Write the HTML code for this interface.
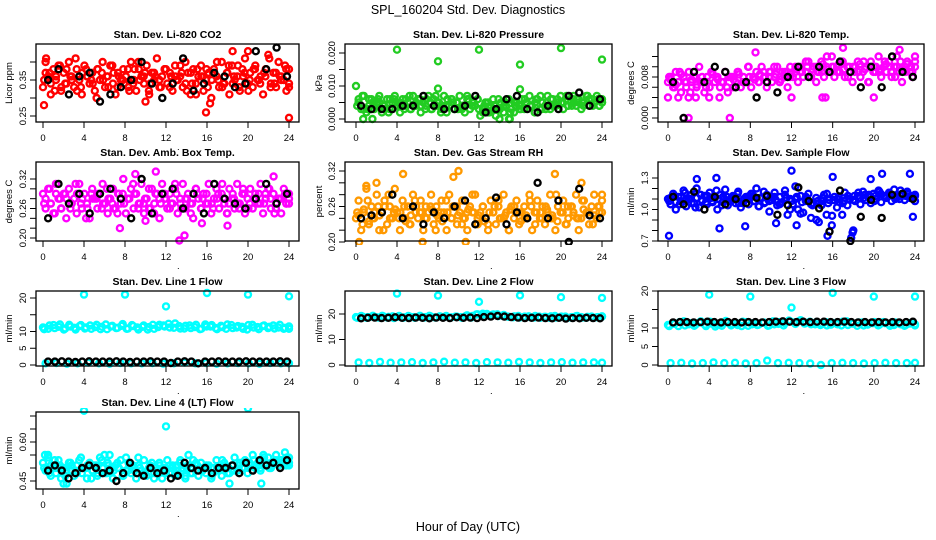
<!DOCTYPE html>
<html><head><meta charset="utf-8"><title>SPL_160204 Std. Dev. Diagnostics</title>
<style>
html,body{margin:0;padding:0;background:#fff;}
svg{display:block;font-family:"Liberation Sans",Arial,sans-serif;}
.pt{fill:none;stroke-width:2.4;}
.ttl{font-size:10.5px;font-weight:bold;text-anchor:middle;}
.tk{font-size:9.5px;text-anchor:middle;}
</style></head>
<body>
<svg id="chart" width="936" height="540" viewBox="0 0 936 540">
<rect width="936" height="540" fill="#fff"/>
<text x="468" y="14" font-size="12.5" text-anchor="middle">SPL_160204  Std. Dev. Diagnostics</text>
<text x="468" y="531" font-size="12.5" text-anchor="middle">Hour of Day (UTC)</text>
</svg>
<script>
// ---------- data (hour-of-day std dev values) ----------
const xTicks = [0,4,8,12,16,20,24];

const co2Main = [0.33,0.40,0.36,0.31,0.38,0.35,0.39,0.32,0.37,0.34,0.40,0.36,0.33,0.38,0.35,0.31,0.39,0.36,0.34,0.37,0.32,0.38,0.35,0.40,0.33,0.36,0.39,0.34,0.31,0.37,0.35,0.38,0.36,0.33,0.40,0.35,0.32,0.38,0.36,0.34,0.39,0.31,0.37,0.35,0.41,0.33,0.36,0.38,0.34,0.37,0.32,0.39,0.35,0.36,0.33,0.40,0.37,0.31,0.38,0.34,0.36,0.39,0.32,0.35,0.37,0.30,0.38,0.36,0.33,0.40,0.34,0.37,0.31,0.39,0.35,0.36,0.32,0.38,0.41,0.34,0.37,0.33,0.39,0.35,0.36,0.31,0.38,0.42,0.34,0.37,0.33,0.40,0.36,0.35,0.32,0.38];
const co2Extra = [0.35,0.37,0.32,0.39,0.34,0.36,0.41,0.33,0.38,0.35,0.30,0.37,0.36,0.39,0.33,0.35,0.38,0.34,0.40,0.36,0.32,0.37,0.35,0.38,0.33,0.36,0.39,0.34,0.37,0.31,0.36,0.38,0.35,0.40,0.33,0.37,0.34,0.39,0.36,0.32,0.38,0.35,0.37,0.41,0.34,0.36,0.39,0.33];
const co2Third = [0.37,0.34,0.36,0.33,0.38,0.35,0.32,0.37,0.36,0.34,0.38,0.35,0.33,0.37,0.36,0.34,0.32,0.38,0.35,0.37,0.34,0.36,0.33,0.38,0.36,0.35,0.37,0.32,0.34,0.38,0.36,0.33,0.37,0.35,0.34,0.39,0.36,0.33,0.37,0.35,0.38,0.34,0.36,0.33,0.37,0.35,0.38,0.34];
const co2OutX = [0.1,0.3,15.9,24,18.5,20,10,16.3];
const co2OutY = [0.28,0.41,0.26,0.245,0.43,0.43,0.29,0.285];
const co2Black = [0.35,0.38,0.31,0.36,0.37,0.29,0.31,0.33,0.35,0.40,0.34,0.30,0.34,0.41,0.32,0.34,0.37,0.36,0.33,0.34,0.43,0.38,0.44,0.36];

const presMain = [0.010,0.006,0.003,0.007,0.002,0.004,0.006,0.003,0.005,0.007,0.002,0.004,0.006,0.003,0.005,0.007,0.004,0.002,0.006,0.004,0.005,0.003,0.007,0.004,0.006,0.002,0.005,0.004,0.007,0.003,0.006,0.004,0.005,0.003,0.007,0.002,0.004,0.006,0.003,0.005,0.007,0.004,0.002,0.006,0.003,0.005,0.004,0.006,0.001,0.003,0.005,0.002,0.004,0.006,0.001,0.003,0.005,0.002,0.004,0.006,0.003,0.002,0.005,0.004,0.006,0.003,0.005,0.007,0.004,0.002,0.006,0.003,0.005,0.004,0.007,0.003,0.006,0.004,0.005,0.007,0.003,0.006,0.004,0.005,0.007,0.004,0.006,0.003,0.005,0.007,0.004,0.006,0.005,0.007,0.004,0.006];
const presExtra = [0.004,0.007,0.003,0.005,0.006,0.004,0.002,0.006,0.005,0.003,0.007,0.004,0.006,0.003,0.005,0.007,0.002,0.004,0.006,0.005,0.003,0.007,0.004,0.006,0.002,0.005,0.003,0.006,0.004,0.000,0.005,0.003,0.006,0.004,0.005,0.007,0.003,0.006,0.004,0.005,0.007,0.004,0.006,0.005,0.007,0.004,0.006,0.005];
const presThird = [0.005,0.003,0.006,0.004,0.005,0.003,0.006,0.005,0.004,0.006,0.003,0.005,0.004,0.006,0.003,0.005,0.004,0.006,0.005,0.003,0.004,0.006,0.005,0.003,0.004,0.002,0.004,0.003,0.005,0.002,0.004,0.003,0.005,0.004,0.006,0.003,0.005,0.004,0.006,0.005,0.004,0.006,0.005,0.004,0.006,0.005,0.004,0.005];
const presOutX = [4,8,12,16,20,24,0.7,1.6,8,16,14,15];
const presOutY = [0.021,0.0175,0.021,0.0165,0.0215,0.018,0.000,0.000,0.0092,0.009,0.000,0.000];
const presBlack = [0.004,0.003,0.003,0.003,0.004,0.004,0.007,0.004,0.003,0.003,0.004,0.007,0.002,0.003,0.006,0.007,0.003,0.002,0.004,0.003,0.007,0.008,0.004,0.006];

const tempMain = [0.007,0.008,0.006,0.009,0.007,0.005,0.008,0.006,0.009,0.007,0.008,0.006,0.010,0.007,0.005,0.008,0.006,0.009,0.007,0.008,0.006,0.007,0.009,0.005,0.008,0.006,0.007,0.009,0.006,0.008,0.007,0.010,0.006,0.008,0.009,0.007,0.010,0.008,0.006,0.009,0.007,0.008,0.010,0.007,0.009,0.008,0.006,0.010,0.008,0.009,0.007,0.010,0.008,0.009,0.011,0.008,0.010,0.007,0.009,0.011,0.008,0.010,0.009,0.012,0.008,0.010,0.009,0.011,0.008,0.010,0.009,0.007,0.010,0.011,0.008,0.009,0.010,0.007,0.011,0.009,0.010,0.012,0.008,0.010,0.009,0.011,0.008,0.010,0.012,0.009,0.007,0.010,0.011,0.009,0.008,0.011];
const tempExtra = [0.008,0.006,0.009,0.007,0.005,0.008,0.007,0.006,0.009,0.008,0.007,0.006,0.008,0.009,0.007,0.010,0.008,0.007,0.009,0.008,0.010,0.007,0.009,0.008,0.010,0.009,0.011,0.008,0.010,0.009,0.012,0.010,0.009,0.011,0.008,0.010,0.009,0.011,0.007,0.010,0.009,0.011,0.010,0.008,0.011,0.009,0.010,0.012];
const tempThird = [0.0075,0.0065,0.0085,0.007,0.0075,0.0065,0.008,0.007,0.0085,0.0075,0.007,0.008,0.0075,0.0085,0.007,0.008,0.0075,0.0085,0.008,0.009,0.0085,0.0075,0.009,0.0085,0.0095,0.009,0.010,0.0095,0.009,0.0105,0.0095,0.010,0.0105,0.0095,0.010,0.009,0.0105,0.0095,0.010,0.009,0.0095,0.0105,0.009,0.010,0.0095,0.0105,0.009,0.010];
const tempOutX = [0,1,2,2.7,4,5,6,2,12,15,15.3,20,17,8.5,22.5];
const tempOutY = [0.004,0.004,0.004,0.004,0.004,0.004,0.000,0.000,0.004,0.004,0.004,0.004,0.0137,0.0128,0.0133];
const tempBlack = [0.007,0.000,0.009,0.007,0.010,0.009,0.006,0.007,0.004,0.007,0.005,0.008,0.010,0.008,0.010,0.009,0.011,0.009,0.006,0.010,0.006,0.012,0.009,0.008];

const ambMain = [0.29,0.26,0.30,0.27,0.25,0.31,0.28,0.26,0.29,0.24,0.30,0.27,0.28,0.25,0.31,0.26,0.29,0.27,0.24,0.30,0.28,0.26,0.29,0.31,0.27,0.25,0.28,0.30,0.26,0.29,0.27,0.32,0.25,0.28,0.30,0.26,0.29,0.27,0.31,0.25,0.28,0.26,0.30,0.27,0.29,0.24,0.31,0.28,0.26,0.29,0.27,0.30,0.25,0.28,0.31,0.26,0.29,0.27,0.24,0.30,0.28,0.26,0.29,0.27,0.31,0.25,0.28,0.30,0.26,0.29,0.27,0.25,0.30,0.28,0.26,0.31,0.27,0.29,0.25,0.28,0.30,0.26,0.29,0.27,0.31,0.25,0.28,0.30,0.26,0.29,0.27,0.28,0.25,0.30,0.27,0.29];
const ambExtra = [0.27,0.30,0.25,0.28,0.29,0.26,0.31,0.27,0.24,0.29,0.28,0.26,0.30,0.27,0.25,0.29,0.28,0.31,0.26,0.27,0.30,0.25,0.28,0.29,0.26,0.31,0.27,0.28,0.25,0.30,0.26,0.29,0.27,0.28,0.31,0.25,0.29,0.27,0.30,0.26,0.28,0.29,0.27,0.30,0.25,0.28,0.29,0.27];
const ambThird = [0.28,0.27,0.29,0.26,0.28,0.27,0.29,0.28,0.26,0.28,0.29,0.27,0.28,0.26,0.29,0.27,0.28,0.29,0.27,0.28,0.26,0.29,0.27,0.28,0.27,0.29,0.26,0.28,0.27,0.29,0.28,0.27,0.26,0.29,0.28,0.27,0.28,0.26,0.29,0.27,0.28,0.27,0.29,0.28,0.26,0.28,0.27,0.28];
const ambOutX = [13.3,13.8,10,15.5,18,7.5,9,11,22.5];
const ambOutY = [0.195,0.205,0.235,0.23,0.225,0.22,0.33,0.335,0.325];
const ambBlack = [0.24,0.31,0.27,0.29,0.25,0.29,0.30,0.28,0.24,0.32,0.25,0.29,0.30,0.26,0.29,0.25,0.31,0.28,0.27,0.26,0.28,0.31,0.27,0.29];

const rhMain = [0.24,0.27,0.22,0.25,0.29,0.23,0.26,0.24,0.28,0.22,0.25,0.27,0.23,0.26,0.24,0.29,0.25,0.22,0.27,0.24,0.26,0.23,0.28,0.25,0.24,0.27,0.22,0.26,0.25,0.28,0.23,0.26,0.24,0.27,0.25,0.22,0.28,0.24,0.26,0.23,0.25,0.27,0.24,0.22,0.26,0.25,0.28,0.23,0.25,0.26,0.24,0.22,0.27,0.25,0.23,0.26,0.24,0.28,0.25,0.22,0.26,0.24,0.27,0.23,0.25,0.26,0.24,0.28,0.22,0.25,0.27,0.24,0.26,0.23,0.25,0.28,0.24,0.22,0.26,0.25,0.27,0.23,0.24,0.26,0.25,0.28,0.22,0.24,0.27,0.25,0.23,0.26,0.28,0.24,0.25,0.27];
const rhExtra = [0.25,0.23,0.27,0.24,0.26,0.22,0.28,0.25,0.24,0.26,0.23,0.27,0.25,0.24,0.26,0.22,0.25,0.27,0.24,0.26,0.23,0.25,0.28,0.24,0.26,0.23,0.25,0.27,0.24,0.22,0.26,0.25,0.24,0.27,0.23,0.25,0.26,0.24,0.28,0.25,0.23,0.26,0.24,0.27,0.25,0.23,0.26,0.28];
const rhThird = [0.245,0.255,0.235,0.25,0.245,0.26,0.24,0.255,0.25,0.235,0.245,0.26,0.25,0.24,0.255,0.245,0.235,0.25,0.26,0.245,0.24,0.255,0.25,0.245,0.235,0.25,0.26,0.24,0.245,0.255,0.25,0.235,0.245,0.26,0.25,0.24,0.255,0.245,0.235,0.25,0.26,0.245,0.24,0.255,0.25,0.245,0.26,0.25];
const rhOutX = [0.3,6.5,10.7,4.6,10,19.4,2,9.5,22,1];
const rhOutY = [0.20,0.20,0.20,0.315,0.32,0.315,0.30,0.31,0.30,0.295];
const rhBlack = [0.24,0.245,0.25,0.28,0.24,0.26,0.23,0.25,0.24,0.26,0.27,0.23,0.24,0.275,0.23,0.25,0.24,0.30,0.24,0.27,0.20,0.29,0.245,0.24];

const flowMain = [1.10,1.05,1.15,1.00,1.12,1.08,1.18,1.03,1.10,1.14,1.06,1.20,1.02,1.09,1.13,1.05,1.16,1.08,1.11,1.00,1.14,1.07,1.19,1.04,1.10,1.13,1.06,1.17,1.02,1.09,1.12,1.05,1.15,1.08,1.20,1.03,1.11,1.06,1.14,0.98,1.09,1.16,1.04,1.12,1.07,1.18,0.95,1.10,1.05,1.22,1.00,1.13,0.97,1.08,1.15,0.92,1.06,1.11,0.88,1.04,1.14,0.95,1.09,0.85,1.12,1.02,1.07,0.95,1.16,1.04,1.10,0.78,1.08,1.13,1.05,1.17,1.09,1.12,1.06,1.15,1.10,1.18,1.07,1.13,1.11,1.16,1.08,1.19,1.12,1.10,1.15,1.09,1.17,1.11,1.13,1.08];
const flowExtra = [1.08,1.13,1.05,1.16,1.10,1.02,1.14,1.07,1.11,1.18,1.04,1.12,1.09,1.15,1.06,1.10,1.13,1.03,1.17,1.08,1.12,1.05,1.14,1.00,1.10,0.96,1.12,1.05,0.90,1.08,1.15,0.94,1.10,1.06,1.13,1.09,1.16,1.11,1.14,1.08,1.17,1.12,1.15,1.10,1.18,1.13,1.11,1.14];
const flowThird = [1.11,1.07,1.12,1.09,1.06,1.11,1.08,1.13,1.07,1.10,1.12,1.08,1.11,1.06,1.10,1.13,1.08,1.11,1.07,1.12,1.09,1.06,1.11,1.08,1.12,1.07,1.10,1.04,1.08,1.11,1.06,1.09,1.12,1.08,1.10,1.13,1.11,1.14,1.12,1.13,1.15,1.12,1.14,1.11,1.13,1.15,1.12,1.13];
const flowOutX = [0.1,5,7.5,10.5,12.5,15.5,2.8,4.7,12,16,19.7,20.8,23.5,23.8,18,17.8];
const flowOutY = [0.75,0.82,0.84,0.87,0.85,0.75,1.29,1.30,1.37,1.31,1.29,1.34,1.34,0.93,0.80,0.73];
const flowBlack = [1.12,1.05,1.17,1.00,1.12,1.05,1.10,1.06,1.11,1.13,0.95,1.04,1.21,1.08,1.01,0.79,1.18,0.70,0.93,1.09,0.92,1.14,1.15,1.10];

const line1Band = [11.2,10.8,11.9,11.4,10.6,12.0,11.1,11.6,10.9,11.8,11.3,10.7,12.1,11.5,11.0,11.7,10.8,11.9,11.2,11.4,10.6,12.0,11.3,11.8,12.3,11.1,11.6,10.9,11.8,11.3,10.7,12.1,11.5,11.0,11.7,10.8,11.9,11.2,11.4,10.6,12.0,11.3,11.6,11.0,11.8,11.2,10.8,11.5];
const line1Band2 = [10.7,11.8,11.0,12.1,10.9,11.5,10.6,11.9,11.2,10.8,12.0,11.4,10.7,11.7,11.1,12.2,10.9,11.6,10.6,11.8,11.3,10.8,12.0,11.5,11.2,12.4,10.9,11.7,11.0,12.0,10.8,11.5,11.9,10.7,11.3,12.1,11.0,11.6,10.8,11.9,11.2,10.7,11.8,11.4,10.9,12.0,11.1,10.8];
const line1Low = [0.5,0.6,0.4,0.5,0.7,0.5,0.4,0.6,0.5,0.5,0.6,0.4,0.5,0.7,0.5,0.6,0.4,0.5,0.6,0.5,0.4,0.6,0.5,0.5];
const line1Black = [1.0,1.0,1.1,1.0,0.9,1.0,1.1,1.0,1.0,1.0,1.1,1.0,0.9,1.0,1.0,1.1,1.0,1.0,0.6,1.0,1.1,1.0,0.5,1.0,1.0,1.1,1.0,1.0,1.0,1.1,1.0,1.0,1.0,1.0,1.1,1.0];
const line1OutX = [4,8,12,16,20,24];
const line1OutY = [21,21,17.5,21.5,21,20.5];

const line2Band = [18.8,19.2,18.5,19.0,18.7,19.3,18.6,19.1,18.9,18.5,19.2,18.8,19.0,18.6,19.3,18.7,19.1,18.9,18.5,19.0,18.8,19.2,18.6,19.8,19.4,20.0,19.6,19.9,19.3,19.0,18.7,19.2,18.8,19.1,18.6,19.0,18.9,18.5,19.2,18.7,19.0,18.6,19.1,18.8,18.5,19.0,18.7,19.1];
const line2Band2 = [18.5,19.0,18.8,19.3,18.6,19.1,18.9,18.4,19.2,18.7,19.0,18.5,19.3,18.8,19.1,18.6,18.9,19.2,18.7,19.0,18.5,19.5,19.2,19.9,20.1,19.5,19.8,19.2,19.6,18.9,19.1,18.6,19.0,18.8,19.2,18.5,18.9,19.1,18.6,19.0,18.4,18.8,19.2,18.6,18.9,18.5,18.8,19.0];
const line2Low = [1.0,0.8,1.2,0.9,1.0,1.1,0.8,1.0,1.3,0.9,1.0,0.8,1.1,1.0,0.9,1.2,1.0,0.8,1.0,1.1,0.9,1.0,1.0,0.9];
const line2Black = [18.3,18.5,18.6,18.4,18.5,18.7,18.5,18.4,18.6,18.5,18.3,18.6,18.5,18.4,18.7,18.5,18.6,18.4,18.8,19.0,19.2,19.0,18.8,18.6,18.4,18.5,18.6,18.4,18.3,18.5,18.2,18.4,18.3,18.5,18.4,18.3];
const line2OutX = [4,8,12,16,20,24];
const line2OutY = [28,27.2,24.8,27.3,26.6,26.3];

const line3Band = [10.8,11.4,10.5,11.8,11.0,10.6,11.5,10.9,11.7,10.4,11.2,11.9,10.7,11.3,10.5,11.6,11.0,10.8,11.4,10.6,11.8,11.1,10.7,12.0,11.5,11.9,11.2,11.7,11.0,10.8,11.6,10.9,11.4,10.7,11.8,11.2,10.6,11.5,10.9,11.3,10.7,11.6,11.0,10.8,11.4,10.6,11.2,11.0];
const line3Band2 = [10.5,11.1,11.6,10.7,11.3,10.9,11.8,10.5,11.2,11.0,10.6,11.5,11.1,10.8,11.7,10.6,11.3,10.9,11.5,10.7,11.0,11.6,11.3,11.8,11.1,12.1,11.4,11.0,11.6,11.2,10.7,11.4,11.0,11.7,10.8,11.2,11.5,10.7,11.1,11.6,10.9,11.3,10.6,11.5,11.0,10.8,11.4,10.7];
const line3Low = [0.5,0.6,0.4,0.5,0.7,0.5,0.6,0.4,0.5,1.2,0.5,0.6,0.5,0.4,0.0,0.5,0.6,0.5,0.4,0.5,0.6,0.5,0.5,0.6];
const line3Black = [11.5,11.6,11.6,11.5,11.6,11.7,11.6,11.5,11.6,11.6,11.5,11.6,11.6,11.5,11.6,11.7,11.8,11.7,11.6,11.7,11.6,11.7,11.7,11.6,11.6,11.7,11.6,11.5,11.6,11.5,11.6,11.5,11.6,11.5,11.6,11.7];
const line3OutX = [4,8,12,16,20,24];
const line3OutY = [19,18.5,15.5,19.5,18.5,18.5];

const line4Main = [0.52,0.49,0.54,0.47,0.51,0.50,0.53,0.46,0.50,0.48,0.52,0.49,0.47,0.51,0.53,0.48,0.50,0.46,0.52,0.49,0.51,0.47,0.54,0.50,0.48,0.52,0.49,0.46,0.51,0.50,0.53,0.47,0.49,0.52,0.48,0.50,0.46,0.51,0.49,0.53,0.47,0.50,0.52,0.48,0.49,0.51,0.46,0.50,0.53,0.48,0.51,0.47,0.49,0.52,0.50,0.46,0.51,0.48,0.53,0.49,0.47,0.52,0.50,0.48,0.51,0.46,0.50,0.53,0.49,0.47,0.52,0.50,0.48,0.51,0.54,0.49,0.52,0.50,0.53,0.48,0.51,0.55,0.50,0.52,0.49,0.53,0.51,0.54,0.50,0.52,0.55,0.51,0.53,0.52,0.54,0.51];
const line4Extra = [0.50,0.48,0.53,0.51,0.47,0.52,0.49,0.54,0.50,0.46,0.51,0.53,0.48,0.50,0.52,0.47,0.49,0.51,0.54,0.48,0.50,0.46,0.52,0.49,0.51,0.48,0.53,0.47,0.50,0.52,0.49,0.51,0.47,0.50,0.53,0.48,0.51,0.49,0.52,0.50,0.53,0.51,0.54,0.50,0.52,0.53,0.51,0.54];
const line4Third = [0.49,0.51,0.48,0.50,0.49,0.51,0.48,0.50,0.51,0.49,0.48,0.50,0.51,0.49,0.50,0.48,0.51,0.49,0.50,0.48,0.51,0.50,0.49,0.48,0.50,0.51,0.49,0.50,0.48,0.51,0.49,0.50,0.48,0.49,0.51,0.50,0.49,0.51,0.50,0.52,0.51,0.50,0.52,0.51,0.53,0.52,0.51,0.52];
const line4OutX = [4,12,20,0.2,0.5,2,2.3,6,6.5,14.2,18.2,21.5,23.6,8.1,21.3];
const line4OutY = [0.72,0.66,0.73,0.55,0.55,0.44,0.44,0.55,0.55,0.55,0.44,0.55,0.56,0.54,0.44];
const line4Black = [0.49,0.51,0.49,0.46,0.48,0.50,0.51,0.50,0.48,0.49,0.45,0.48,0.52,0.48,0.47,0.50,0.48,0.49,0.46,0.47,0.52,0.50,0.49,0.50,0.48,0.50,0.50,0.51,0.48,0.52,0.49,0.53,0.51,0.52,0.50,0.53];

// ---------- layout ----------
const svg = document.getElementById('chart');
const NS = 'http://www.w3.org/2000/svg';
function el(tag, attrs, parent){
  const e = document.createElementNS(NS, tag);
  for (const k in attrs) e.setAttribute(k, attrs[k]);
  (parent||svg).appendChild(e);
  return e;
}
const cols = [{l:36,r:299,x0:43,x24:289,yl:9},{l:345,r:612,x0:356,x24:602,yl:319},{l:658,r:924,x0:668,x24:915,yl:631}];
const rows = [{t:44,b:122},{t:162,b:241},{t:291,b:366},{t:412,b:489}];

const panels = [
 {name:'co2',title:'Stan. Dev. Li-820 CO2',ylab:'Licor ppm',c:0,r:0,ya:0.35,pa:80,yb:0.25,pb:116,ticks:[0.25,0.30,0.35,0.40],labels:[0.25,0.35],fmt:2,color:'#ff0000',series:[co2Main,co2Extra,co2Third],outX:co2OutX,outY:co2OutY,black:co2Black},
 {name:'pressure',title:'Stan. Dev. Li-820 Pressure',ylab:'kPa',c:1,r:0,ya:0,pa:119,yb:0.02,pb:53,ticks:[0,0.005,0.010,0.015,0.020],labels:[0,0.010,0.020],fmt:3,color:'#22cc22',series:[presMain,presExtra,presThird],outX:presOutX,outY:presOutY,black:presBlack},
 {name:'li820-temp',title:'Stan. Dev. Li-820 Temp.',ylab:'degrees C',c:2,r:0,ya:0,pa:118,yb:0.008,pb:77,ticks:[0,0.002,0.004,0.006,0.008,0.010,0.012],labels:[0,0.008],fmt:3,color:'#ff00ff',series:[tempMain,tempExtra,tempThird],outX:tempOutX,outY:tempOutY,black:tempBlack},
 {name:'amb-box-temp',title:'Stan. Dev. Amb. Box Temp.',ylab:'degrees C',c:0,r:1,ya:0.32,pa:179,yb:0.20,pb:238,ticks:[0.20,0.22,0.24,0.26,0.28,0.30,0.32],labels:[0.20,0.26,0.32],fmt:2,color:'#ff00ff',series:[ambMain,ambExtra,ambThird],outX:ambOutX,outY:ambOutY,black:ambBlack},
 {name:'gas-stream-rh',title:'Stan. Dev. Gas Stream RH',ylab:'percent',c:1,r:1,ya:0.32,pa:171,yb:0.20,pb:242,ticks:[0.20,0.22,0.24,0.26,0.28,0.30,0.32],labels:[0.20,0.26,0.32],fmt:2,color:'#ff9900',series:[rhMain,rhExtra,rhThird],outX:rhOutX,outY:rhOutY,black:rhBlack},
 {name:'sample-flow',title:'Stan. Dev. Sample Flow',ylab:'ml/min',c:2,r:1,ya:1.3,pa:178,yb:0.7,pb:241,ticks:[0.7,0.8,0.9,1.0,1.1,1.2,1.3],labels:[0.7,1.0,1.3],fmt:1,color:'#0000ff',series:[flowMain,flowExtra,flowThird],outX:flowOutX,outY:flowOutY,black:flowBlack},
 {name:'line1-flow',title:'Stan. Dev. Line 1 Flow',ylab:'ml/min',c:0,r:2,ya:0,pa:365,yb:20,pb:298,ticks:[0,5,10,15,20],labels:[0,5,10,20],fmt:0,color:'#00ffff',series:[line1Band,line1Band2,line1Low],outX:line1OutX,outY:line1OutY,black:line1Black},
 {name:'line2-flow',title:'Stan. Dev. Line 2 Flow',ylab:'ml/min',c:1,r:2,ya:0,pa:365,yb:20,pb:314,ticks:[0,10,20],labels:[0,10,20],fmt:0,color:'#00ffff',series:[line2Band,line2Band2,line2Low],outX:line2OutX,outY:line2OutY,black:line2Black},
 {name:'line3-flow',title:'Stan. Dev. Line 3 Flow',ylab:'ml/min',c:2,r:2,ya:0,pa:365,yb:20,pb:291,ticks:[0,5,10,15,20],labels:[0,5,10,20],fmt:0,color:'#00ffff',series:[line3Band,line3Band2,line3Low],outX:line3OutX,outY:line3OutY,black:line3Black},
 {name:'line4-flow',title:'Stan. Dev. Line 4 (LT) Flow',ylab:'ml/min',c:0,r:3,ya:0.45,pa:481,yb:0.60,pb:442,ticks:[0.45,0.50,0.55,0.60,0.65,0.70],labels:[0.45,0.60],fmt:2,color:'#00ffff',series:[line4Main,line4Extra,line4Third],outX:line4OutX,outY:line4OutY,black:line4Black}
];
const seriesOffset = [0, 0.12, 0.25];

panels.forEach(p => {
  const C = cols[p.c], R = rows[p.r];
  const xs = h => C.x0 + (C.x24 - C.x0) * h / 24;
  const ys = v => p.pa + (v - p.ya) * (p.pb - p.pa) / (p.yb - p.ya);
  const g = el('g', {});
  
  
  const clipId = 'clip-' + p.name;
  const cp = el('clipPath', {id: clipId}, g);
  el('rect', {x: C.l - 4, y: R.t - 4, width: C.r - C.l + 8, height: R.b - R.t + 8}, cp);
  const pts = el('g', {'clip-path': 'url(#' + clipId + ')'}, g);
  
  
  p.series.forEach((arr, si) => {
    const n = arr.length;
    arr.forEach((v, i) => {
      const h = Math.min(24, (n > 1 ? 24 * i / (n - 1) : 0) + seriesOffset[si]);
      const c = el('circle', {cx: xs(h).toFixed(1), cy: ys(v).toFixed(1), r: 3, class: 'pt', stroke: p.color}, pts);
      
      
    });
  });
  p.outX.forEach((h, i) => {
    const c = el('circle', {cx: xs(h).toFixed(1), cy: ys(p.outY[i]).toFixed(1), r: 3, class: 'pt', stroke: p.color}, pts);
    
    
  });
  const nb = p.black.length;
  p.black.forEach((v, i) => {
    const h = 0.5 + 23.3 * i / (nb - 1);
    const c = el('circle', {cx: xs(h).toFixed(1), cy: ys(v).toFixed(1), r: 3, class: 'pt', stroke: '#000'}, pts);
    
    
  });
  const box = el('rect', {x: C.l, y: R.t, width: C.r - C.l, height: R.b - R.t, fill: 'none', stroke: '#000', 'stroke-width': 1.3}, g);
  
  
  const t = el('text', {x: (C.l + C.r) / 2, y: R.t - 6, class: 'ttl'}, g);
  t.textContent = p.title;
  
  
  el('line', {x1: xs(0), x2: xs(24), y1: R.b, y2: R.b, stroke: '#000'}, g);
  xTicks.forEach(h => {
    el('line', {x1: xs(h), x2: xs(h), y1: R.b, y2: R.b + 6, stroke: '#000'}, g);
    const tl = el('text', {x: xs(h), y: R.b + 19, class: 'tk'}, g);
    tl.textContent = h;
    
    
  });
  const dot = el('text', {x: xs(13.2), y: R.b + 28, class: 'tk'}, g);
  dot.textContent = '.';
  
  
  const y0 = ys(p.ticks[0]), y1 = ys(p.ticks[p.ticks.length - 1]);
  el('line', {x1: C.l, x2: C.l, y1: y0, y2: y1, stroke: '#000'}, g);
  p.ticks.forEach(v => {
    el('line', {x1: C.l - 6, x2: C.l, y1: ys(v), y2: ys(v), stroke: '#000'}, g);
  });
  p.labels.forEach(v => {
    const yy = ys(v), xx = C.l - 10;
    const tl = el('text', {x: xx, y: yy, class: 'tk', transform: 'rotate(-90 ' + xx + ' ' + yy + ')'}, g);
    tl.textContent = v.toFixed(p.fmt);
    
    
  });
  const ym = (R.t + R.b) / 2;
  const yl = el('text', {x: C.yl + 3, y: ym, class: 'tk', transform: 'rotate(-90 ' + (C.yl + 3) + ' ' + ym + ')'}, g);
  yl.textContent = p.ylab;
  
  
});
</script>
</body></html>
